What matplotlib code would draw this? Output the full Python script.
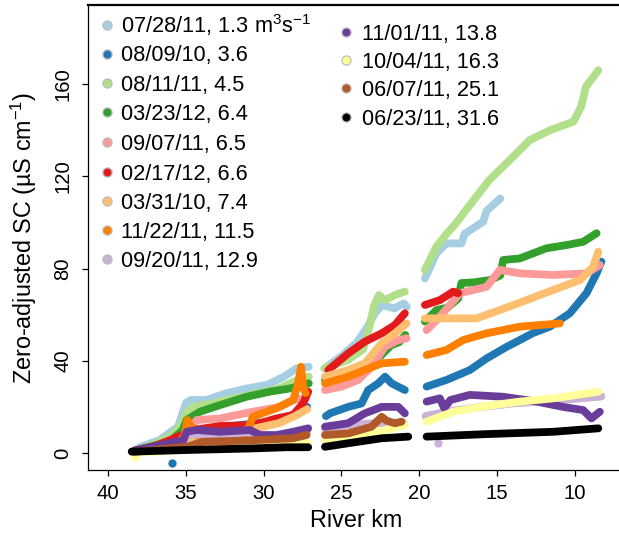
import numpy as np
import matplotlib
matplotlib.use('Agg')
import matplotlib.pyplot as plt

plt.rcParams['font.family'] = ['Liberation Sans', 'DejaVu Sans']
plt.rcParams['mathtext.fontset'] = 'custom'
plt.rcParams['mathtext.rm'] = 'Liberation Sans'
plt.rcParams['mathtext.it'] = 'Liberation Sans:italic'

nan = np.nan

# ---------------- data (River km, zero-adjusted SC); nan separates survey segments
dates = ['07/28/11', '08/09/10', '08/11/11', '03/23/12', '09/07/11', '02/17/12',
         '03/31/10', '11/22/11', '09/20/11', '11/01/11', '10/04/11', '06/07/11', '06/23/11']
flows = ['1.3', '3.6', '4.5', '6.4', '6.5', '6.6', '7.4', '11.5', '12.9', '13.8', '16.3', '25.1', '31.6']
colors = ['#A6CEE3', '#1F78B4', '#B2DF8A', '#33A02C', '#FB9A99', '#E31A1C',
          '#FDBF6F', '#FF7F00', '#CAB2D6', '#6A3D9A', '#FFFF99', '#B15928', '#000000']

km_0728 = [38.4, 37.9, 36.7, 35.5, 35.0, 34.7, 33.7, 32.4, 31.1, 29.8, 28.7, 27.9, 27.1, nan,
           26.1, 25.0, 24.0, 23.3, 22.85, 22.4, 21.6, 21.0, 20.8, nan,
           19.64, 18.9, 18.25, 17.29, 17.1, 15.9, 15.68, 14.8]
sc_0728 = [0.8, 2.7, 5.6, 11.4, 21.7, 23.0, 23.0, 25.9, 28.0, 29.5, 33.1, 36.7, 37.4, nan,
           36.7, 42.0, 48.0, 55.0, 60.6, 64.2, 62.7, 64.9, 63.4, nan,
           75.7, 86.6, 90.9, 90.9, 95.0, 100.3, 105.0, 110.4]

km_0809 = [38.3, 37.0, 36.0, 35.0, 33.0, 31.0, 29.0, 28.0, 27.2, nan,
           26.0, 25.74, 24.57, 23.71, 23.28, 22.64, 22.2, 21.78, 20.93, nan,
           19.53, 18.25, 16.75, 15.68, 14.4, 13.54, 12.7, 11.61, 10.33, 9.26, 8.61, 8.3]
sc_0809 = [0.0, 1.5, 3.0, 8.0, 11.0, 12.5, 14.0, 17.0, 20.0, nan,
           16.0, 17.2, 20.0, 21.5, 27.3, 30.2, 33.1, 30.2, 27.3, nan,
           28.8, 31.7, 36.0, 41.0, 46.0, 49.0, 52.0, 54.8, 60.6, 69.3, 77.9, 83.0]

km_0811 = [38.4, 37.0, 36.0, 35.3, 35.0, 34.5, 33.0, 31.0, 29.0, 28.1, 27.1, nan,
           26.1, 24.6, 23.6, 23.2, 22.9, 22.6, 22.2, 21.57, 20.93, nan,
           19.64, 18.9, 18.25, 17.6, 17.0, 15.5, 14.2, 12.9, 11.6, 10.1, 9.6, 9.3, 8.5]
sc_0811 = [0.5, 4.0, 7.0, 12.0, 17.3, 20.0, 22.0, 25.0, 28.0, 30.9, 33.1, nan,
           36.7, 40.3, 45.0, 55.0, 64.0, 68.5, 66.3, 68.5, 70.0, nan,
           79.4, 89.5, 95.0, 100.0, 105.4, 118.4, 127.0, 135.7, 140.0, 143.7, 150.2, 158.8, 166.0]

km_0323 = [38.3, 36.0, 35.2, 34.95, 34.1, 32.8, 31.1, 29.6, 28.3, 27.1, nan,
           26.06, 24.5, 23.5, 22.5, 21.8, 21.3, 20.9, nan,
           19.64, 18.9, 18.2, 17.5, 17.3, 16.5, 15.47, 14.8, 14.61, 13.54, 11.83, 10.54, 9.47, 8.61]
sc_0323 = [1.0, 5.0, 10.0, 14.3, 17.9, 20.8, 24.4, 26.6, 28.0, 30.2, nan,
           31.7, 35.0, 38.0, 42.0, 46.8, 48.0, 51.2, nan,
           57.0, 62.0, 63.0, 67.0, 73.7, 74.0, 75.0, 77.0, 83.7, 84.4, 88.8, 90.2, 91.6, 95.3]

km_0907 = [38.3, 36.0, 35.0, 34.3, 32.8, 30.7, 28.95, 28.1, 27.3, nan,
           26.06, 25.0, 23.92, 23.07, 22.21, 21.35, 20.82, nan,
           19.53, 18.68, 17.39, 15.68, 14.82, 13.54, 11.4, 9.26, 8.4]
sc_0907 = [1.0, 4.0, 8.0, 14.3, 15.0, 17.9, 20.0, 23.0, 23.7, nan,
           27.3, 28.8, 31.7, 37.4, 46.1, 49.0, 49.7, nan,
           53.3, 59.1, 69.3, 72.1, 79.4, 77.9, 77.2, 77.9, 81.5]

km_0217 = [38.3, 37.0, 36.02, 34.52, 32.81, 30.67, 29.17, 28.1, 27.46, 27.14, nan,
           25.85, 24.57, 23.5, 22.42, 21.57, 20.93, nan,
           19.64, 18.68, 17.82, 17.5]
sc_0217 = [1.0, 3.0, 5.6, 10.0, 11.7, 12.1, 15.0, 16.5, 21.6, 26.6, nan,
           36.0, 43.2, 48.3, 51.9, 55.5, 60.6, nan,
           64.2, 66.3, 70.0, 69.3]

km_0331 = [38.3, 36.0, 35.0, 33.0, 31.0, 29.0, 28.0, 27.2, nan,
           26.06, 24.57, 23.5, 22.42, 21.57, 20.82, nan,
           19.64, 17.82, 16.32, 14.82, 13.11, 11.4, 9.68, 8.83, 8.5]
sc_0331 = [0.5, 3.0, 6.0, 8.0, 10.0, 13.0, 16.0, 19.0, nan,
           33.1, 36.0, 38.9, 47.6, 51.9, 56.2, nan,
           58.4, 58.4, 58.4, 62.0, 66.3, 70.7, 75.0, 80.8, 87.3]

km_1122 = [38.3, 36.0, 35.1, 34.9, 34.7, 34.1, 32.4, 31.1, 30.7, 29.2, 28.1, 27.8, 27.6, 27.45, 27.3, nan,
           26.06, 24.57, 23.5, 22.42, 20.93, nan,
           19.53, 18.25, 17.18, 15.68, 13.54, 10.97]
sc_1122 = [0.5, 2.0, 7.0, 14.3, 12.0, 6.4, 7.0, 8.5, 15.7, 19.4, 23.0, 30.0, 37.4, 28.0, 26.0, nan,
           30.2, 33.1, 36.0, 38.9, 39.6, nan,
           42.5, 44.7, 49.0, 51.9, 54.8, 56.2]

km_0920 = [38.3, 35.2, 34.9, 32.8, 30.9, 30.2, 28.1, 27.2, nan,
           26.06, 24.57, 23.0, 21.0, nan,
           19.6, 18.2, 16.0, 14.0, 12.0, 10.0, 8.3]
sc_0920 = [0.5, 4.0, 8.0, 8.0, 9.0, 7.0, 8.0, 9.5, nan,
           10.5, 12.0, 12.9, 12.9, nan,
           16.0, 18.0, 20.0, 21.5, 22.5, 23.5, 24.5]

km_1101 = [38.3, 35.16, 34.95, 34.31, 32.81, 30.88, 30.24, 29.17, 28.1, 27.14, nan,
           26.06, 24.57, 23.5, 22.42, 21.35, 20.93, nan,
           19.53, 18.68, 18.4, 18.0, 16.75, 14.61, 12.47, 10.76, 9.47, 8.94, 8.4]
sc_1101 = [1.0, 5.6, 9.2, 10.0, 9.2, 10.0, 7.8, 7.8, 9.2, 10.7, nan,
           11.4, 12.9, 17.2, 20.0, 20.0, 17.2, nan,
           22.3, 23.7, 19.5, 23.0, 25.2, 24.4, 22.3, 20.0, 18.6, 15.0, 17.9]

km_1004 = [38.3, 35.0, 31.0, 28.0, 27.14, nan,
           26.06, 24.0, 22.5, 20.93, nan,
           19.53, 17.82, 15.68, 13.54, 11.4, 8.5]
sc_1004 = [0.0, 1.5, 3.0, 3.5, 4.2, nan,
           5.6, 7.0, 9.5, 12.1, nan,
           13.6, 17.9, 20.4, 22.3, 23.7, 26.6]

km_0607 = [38.3, 34.95, 33.88, 31.5, 29.6, 28.1, 27.24, nan,
           26.06, 24.57, 23.07, 22.42, 22.1, 21.57, 21.14]
sc_0607 = [0.5, 2.7, 4.9, 5.3, 5.9, 6.4, 7.8, nan,
           7.8, 8.5, 11.4, 15.7, 14.0, 12.9, 13.6]

km_0623 = [38.48, 34.95, 30.67, 28.52, 27.14, nan,
           26.06, 23.92, 22.42, 20.71, nan,
           19.53, 15.68, 11.4, 8.5]
sc_0623 = [0.6, 1.3, 2.0, 2.5, 2.5, nan,
           2.7, 4.9, 6.4, 7.1, nan,
           7.1, 8.2, 9.2, 10.7]

# isolated readings
out_km = [35.9, 38.3, 18.8]
out_sc = [-4.5, -1.6, 4.2]
out_idx = [1, 10, 8]

series_km = [km_0728, km_0809, km_0811, km_0323, km_0907, km_0217, km_0331,
             km_1122, km_0920, km_1101, km_1004, km_0607, km_0623]
series_sc = [sc_0728, sc_0809, sc_0811, sc_0323, sc_0907, sc_0217, sc_0331,
             sc_1122, sc_0920, sc_1101, sc_1004, sc_0607, sc_0623]

W, H = 619, 535
fig = plt.figure(figsize=(W / 100, H / 100), dpi=100)
L, R, B, T = 87.5, 619, 470, 5
ax = fig.add_axes([L / W, (H - B) / H, (R - L) / W, (B - T) / H])

for i, (kx, sy) in enumerate(zip(series_km, series_sc)):
    ax.plot(kx, sy, color=colors[i], lw=5.6, solid_capstyle='round',
            solid_joinstyle='round', zorder=2 + i)
for k, s, i in zip(out_km, out_sc, out_idx):
    ax.plot([k], [s], 'o', color=colors[i], ms=6, mec='none', zorder=2 + i)

ax.set_xlim(41.32, 7.17)
ax.set_ylim(-7.37, 194.3)
ax.set_xticks([40, 35, 30, 25, 20, 15, 10])
ax.set_yticks([0, 40, 80, 120, 160])
ax.tick_params(direction='out', length=4.5, width=0.9, labelsize=14.6, colors='black')
ax.tick_params(axis='x', pad=5.8)
ax.tick_params(axis='y', pad=6.5)
for lab in ax.get_yticklabels():
    lab.set_rotation(90)
    lab.set_va('center')
ax.spines['right'].set_visible(False)
for s in ['left', 'top', 'bottom']:
    ax.spines[s].set_linewidth(0.9)
ax.spines['top'].set_linewidth(1.6)

ax.set_xlabel('River km', fontsize=16.8)
ax.xaxis.set_label_coords(0.505, -0.084)
ax.set_ylabel('Zero-adjusted SC (\u00b5S cm$^{-1}$)', fontsize=16.8)
ax.yaxis.set_label_coords(-0.092, 0.5)

# legend drawn in figure pixel positions
def fx(x):
    return x / W

def fy(y):
    return 1 - y / H

labels = [f'{d}, {q}' for d, q in zip(dates, flows)]
labels[0] = labels[0] + ' m$^3$s$^{-1}$'
col1_y = [25, 53.5, 83, 112, 142, 172, 201, 230, 259]
col2_y = [32, 60, 88, 117]
rows = [(107, 121, y) for y in col1_y] + [(346, 362, y) for y in col2_y]
for i, (mx, tx, y) in enumerate(rows):
    fig.lines.append(plt.Line2D([fx(mx)], [fy(y)], marker='o', ms=6.6, color=colors[i],
                                mec='#BDBDBD', mew=0.9, ls='none',
                                transform=fig.transFigure))
    fig.text(fx(tx), fy(y + 7.6), labels[i], fontsize=15.7, va='baseline', ha='left')

fig.savefig('out.png', dpi=100)
